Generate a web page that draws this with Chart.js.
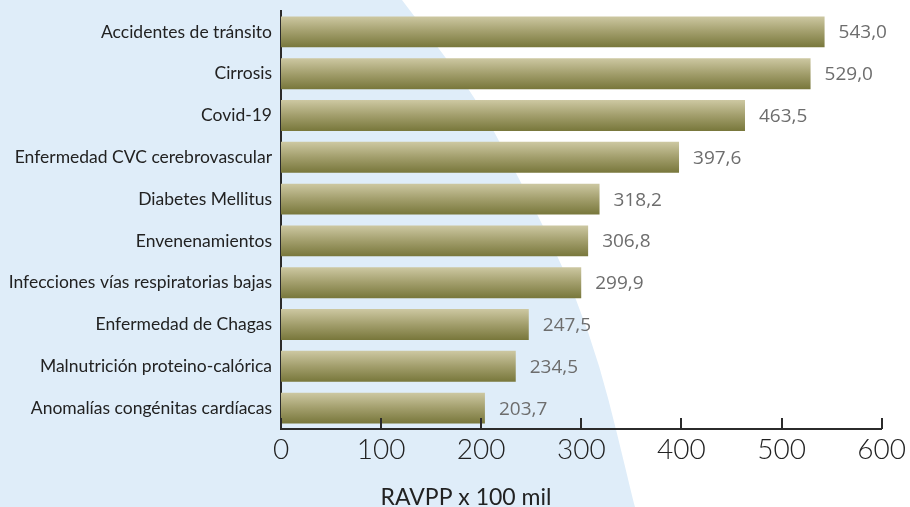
<!DOCTYPE html>
<html>
<head>
<meta charset="utf-8">
<script src="https://cdn.jsdelivr.net/npm/chart.js@4"></script>
<style>
    html, body { margin: 0; padding: 0; background: #ffffff; }
    #wrap { width: 910px; height: 507px; position: relative; }
</style>
</head>
<body>
<div id="wrap"><canvas id="chart"></canvas></div>
<script>
// Chart data
const categories = [
    'Accidentes de tránsito',
    'Cirrosis',
    'Covid-19',
    'Enfermedad CVC cerebrovascular',
    'Diabetes Mellitus',
    'Envenenamientos',
    'Infecciones vías respiratorias bajas',
    'Enfermedad de Chagas',
    'Malnutrición proteino-calórica',
    'Anomalías congénitas cardíacas'
];
const ravppValues = [543.0, 529.0, 463.5, 397.6, 318.2, 306.8, 299.9, 247.5, 234.5, 203.7];
const xTicks = [0, 100, 200, 300, 400, 500, 600];
const axisTitle = 'RAVPP x 100 mil';

// Format number with comma decimal
function formatValue(v) {
    return v.toFixed(1).replace('.', ',');
}

// Light blue backdrop shape on the left side
const backdropPlugin = {
    id: 'backdrop',
    beforeDraw(chart) {
        const ctx = chart.ctx;
        const pts = [[402, 0], [440, 50], [477, 100], [513, 167], [547, 233],
                     [577, 300], [600, 367], [617, 433], [633, 500], [635, 507]];
        ctx.save();
        ctx.fillStyle = '#dfedf9';
        ctx.beginPath();
        ctx.moveTo(0, 0);
        ctx.lineTo(pts[0][0], pts[0][1]);
        for (let i = 1; i < pts.length - 1; i++) {
            const mx = (pts[i][0] + pts[i + 1][0]) / 2;
            const my = (pts[i][1] + pts[i + 1][1]) / 2;
            ctx.quadraticCurveTo(pts[i][0], pts[i][1], mx, my);
        }
        ctx.lineTo(pts[pts.length - 1][0], pts[pts.length - 1][1]);
        ctx.lineTo(0, 507);
        ctx.closePath();
        ctx.fill();
        ctx.restore();
    }
};

// Value labels, inward tick marks and axis title
const labelsPlugin = {
    id: 'labels',
    afterDraw(chart) {
        const ctx = chart.ctx;
        const meta = chart.getDatasetMeta(0);
        const xs = chart.scales.x;
        ctx.save();
        ctx.font = '19px "Open Sans"';
        ctx.fillStyle = '#6d6d6d';
        ctx.textAlign = 'left';
        ctx.textBaseline = 'middle';
        meta.data.forEach((bar, i) => {
            ctx.fillText(formatValue(ravppValues[i]), bar.x + 14, bar.y + 1);
        });

        // tick marks pointing up from the axis
        ctx.strokeStyle = '#2b2b2b';
        ctx.lineWidth = 2;
        const base = chart.chartArea.bottom;
        xTicks.forEach(t => {
            const px = Math.round(xs.getPixelForValue(t));
            ctx.beginPath();
            ctx.moveTo(px, base);
            ctx.lineTo(px, base - 11);
            ctx.stroke();
        });

        ctx.font = '23px Lato';
        ctx.fillStyle = '#222222';
        ctx.textAlign = 'center';
        ctx.textBaseline = 'middle';
        ctx.fillText(axisTitle, 466, 498);
        ctx.restore();
    }
};

function barGradient(context) {
    const chart = context.chart;
    const ys = chart.scales.y;
    if (!ys || !chart.chartArea) return '#a09c6a';
    const cy = ys.getPixelForValue(context.dataIndex);
    const half = ys.height / categories.length * 0.74 / 2;
    const g = chart.ctx.createLinearGradient(0, cy - half, 0, cy + half);
    g.addColorStop(0, '#cdc8a2');
    g.addColorStop(0.5, '#a29e6c');
    g.addColorStop(1, '#78773b');
    return g;
}

new Chart(document.getElementById('chart'), {
    type: 'bar',
    data: {
        labels: categories,
        datasets: [{
            data: ravppValues,
            backgroundColor: barGradient,
            borderWidth: 0,
            barPercentage: 0.74,
            categoryPercentage: 1.0
        }]
    },
    options: {
        indexAxis: 'y',
        responsive: true,
        maintainAspectRatio: false,
        animation: false,
        layout: {
            padding: { top: 11, right: 27, left: 0, bottom: 0 }
        },
        plugins: {
            legend: { display: false },
            tooltip: { enabled: false }
        },
        scales: {
            x: {
                min: 0,
                max: 600,
                afterBuildTicks: scale => {
                    scale.ticks = xTicks.map(v => ({ value: v }));
                },
                grid: { display: false, drawTicks: false },
                border: { display: true, color: '#2b2b2b', width: 2 },
                ticks: {
                    padding: 4,
                    color: '#222222',
                    font: { family: 'Lato', size: 28, weight: '300' },
                    maxRotation: 0
                },
                afterFit: scale => { scale.height = 78; }
            },
            y: {
                grid: { display: false, drawTicks: false },
                border: { display: true, color: '#2b2b2b', width: 2 },
                ticks: {
                    padding: 9,
                    color: '#222222',
                    font: { family: 'Lato', size: 17.5 }
                },
                afterFit: scale => {
                    scale.width = 281;
                    scale.paddingTop = 0;
                    scale.paddingBottom = 0;
                }
            }
        }
    },
    plugins: [backdropPlugin, labelsPlugin]
});
</script>
</body>
</html>
